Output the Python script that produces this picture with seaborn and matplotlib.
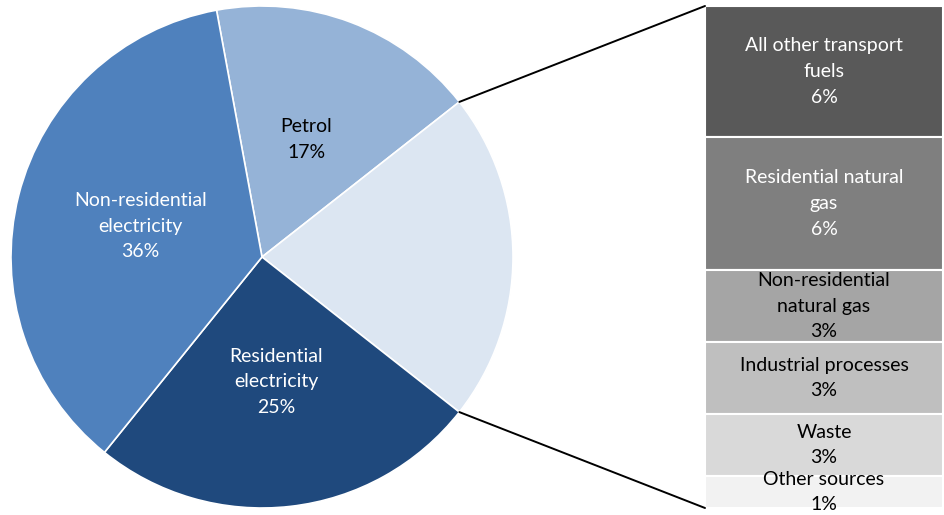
import numpy as np
import matplotlib
matplotlib.use("Agg")
import matplotlib.pyplot as plt
import seaborn as sns
from matplotlib.patches import ConnectionPatch

# Greenhouse gas emission shares (%), pie slices listed clockwise from Petrol
pie_names = ["Petrol", "Other", "Residential\nelectricity", "Non-residential\nelectricity"]
petrol = 17.3
residential_electricity = 25.2
non_residential_electricity = 36.3

# Breakdown of the "Other" slice, top to bottom
bar_names = [
    "All other transport\nfuels",
    "Residential natural\ngas",
    "Non-residential\nnatural gas",
    "Industrial processes",
    "Waste",
    "Other sources",
]
bar_values = [5.53, 5.62, 3.04, 3.04, 2.62, 1.35]

other_total = sum(bar_values)
pie_values = [petrol, other_total, residential_electricity, non_residential_electricity]

pie_colors = ["#95B3D7", "#DCE6F2", "#1F497D", "#4F81BD"]
pie_text_colors = ["black", None, "white", "white"]
bar_colors = ["#595959", "#7F7F7F", "#A5A5A5", "#BFBFBF", "#D9D9D9", "#F2F2F2"]
bar_text_colors = ["white", "white", "black", "black", "black", "black"]

sns.set_theme(style="white")
plt.rcParams["font.family"] = ["Lato", "DejaVu Sans"]
FS = 14
LS = 1.62

W, H = 944, 515
fig = plt.figure(figsize=(W / 100, H / 100), dpi=100)
fig.patch.set_facecolor("white")

# Pie drawn in pixel-like data units
ax = fig.add_axes([0, 0, 1, 1])
center = (262, 258)
radius = 251
start = 360 * (pie_values[0] + pie_values[1] / 2) / 100
wedges, _ = ax.pie(
    pie_values,
    colors=pie_colors,
    startangle=start,
    counterclock=False,
    center=center,
    radius=radius,
    frame=True,
    wedgeprops=dict(edgecolor="white", linewidth=1.2),
)
ax.set_xlim(0, W)
ax.set_ylim(0, H)
ax.set_aspect("equal")
ax.axis("off")

for w, name, val, tc in zip(wedges, pie_names, pie_values, pie_text_colors):
    if tc is None:
        continue
    mid = np.deg2rad((w.theta1 + w.theta2) / 2)
    x = center[0] + 0.5 * radius * np.cos(mid)
    y = center[1] + 0.5 * radius * np.sin(mid)
    ax.text(x, y, f"{name}\n{val:.0f}%", ha="center", va="center",
            color=tc, fontsize=FS, linespacing=LS)

# Stacked bar for the "Other" breakdown
bx = fig.add_axes([705 / W, 7 / H, 238 / W, 502 / H])
bottoms = other_total - np.cumsum(bar_values)
for v, b, c in zip(bar_values, bottoms, bar_colors):
    sns.barplot(x=[0], y=[v], bottom=b, color=c, saturation=1, width=1.0,
                errorbar=None, edgecolor="white", linewidth=1.5, ax=bx)
bx.set_xlim(-0.5, 0.5)
bx.set_ylim(0, other_total)
bx.axis("off")

for name, v, b, tc in zip(bar_names, bar_values, bottoms, bar_text_colors):
    bx.text(0, b + v / 2, f"{name}\n{v:.0f}%", ha="center", va="center",
            color=tc, fontsize=FS, linespacing=LS, clip_on=False)

# Connector lines from the "Other" slice edges to the bar corners
other_w = wedges[1]
for theta, ybar in [(other_w.theta2, other_total), (other_w.theta1, 0)]:
    t = np.deg2rad(theta)
    pa = (center[0] + radius * np.cos(t), center[1] + radius * np.sin(t))
    con = ConnectionPatch(xyA=pa, coordsA=ax.transData,
                          xyB=(-0.5, ybar), coordsB=bx.transData,
                          color="black", linewidth=1.4)
    fig.add_artist(con)

fig.savefig("out.png", dpi=100, facecolor="white")
